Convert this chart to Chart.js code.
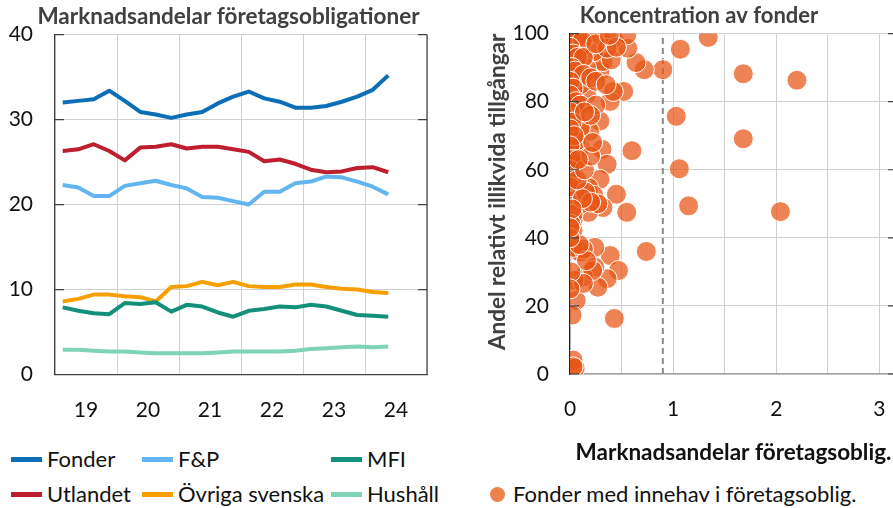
<!DOCTYPE html>
<html>
<head>
<meta charset="utf-8">
<script src="https://cdn.jsdelivr.net/npm/chart.js@4.4.1/dist/chart.umd.min.js"></script>
<style>
  body { margin: 0; width: 893px; height: 508px; overflow: hidden; background: #fff; position: relative; font-family: Lato, sans-serif; }
  #left { position: absolute; left: 0; top: 0; }
  #right { position: absolute; left: 480px; top: 0; }
  .lg { position: absolute; font-size: 22px; color: #111; line-height: 26px; white-space: nowrap; transform: translateY(-50%); }
  .lg i { position: absolute; top: 11px; height: 5px; width: 31px; }
  .lg b { position: absolute; top: 6px; width: 15px; height: 15px; border-radius: 50%; }
</style>
</head>
<body>
<canvas id="left" width="457" height="432"></canvas>
<canvas id="right" width="438" height="466"></canvas>
<div id="legend"></div>
<script>
  // kvartal, 2019 K1 - 2024 K2
  const quarters = ['2019K1', '2019K2', '2019K3', '2019K4', '2020K1', '2020K2', '2020K3', '2020K4',
    '2021K1', '2021K2', '2021K3', '2021K4', '2022K1', '2022K2', '2022K3', '2022K4',
    '2023K1', '2023K2', '2023K3', '2023K4', '2024K1', '2024K2'];

  const fonder   = [32.0, 32.2, 32.4, 33.4, 32.2, 30.9, 30.6, 30.2, 30.6, 30.9, 31.9, 32.7, 33.3, 32.5, 32.1, 31.4, 31.4, 31.6, 32.1, 32.7, 33.5, 35.2];
  const fp       = [22.3, 22.0, 21.0, 21.0, 22.2, 22.5, 22.8, 22.3, 21.9, 20.9, 20.8, 20.4, 20.0, 21.5, 21.5, 22.5, 22.7, 23.3, 23.2, 22.7, 22.1, 21.2];
  const mfi      = [7.9, 7.5, 7.2, 7.1, 8.4, 8.3, 8.5, 7.4, 8.2, 8.0, 7.3, 6.8, 7.5, 7.7, 8.0, 7.9, 8.2, 8.0, 7.5, 7.0, 6.9, 6.8];
  const utlandet = [26.3, 26.5, 27.1, 26.3, 25.2, 26.7, 26.8, 27.1, 26.6, 26.8, 26.8, 26.5, 26.2, 25.1, 25.3, 24.8, 24.1, 23.8, 23.9, 24.3, 24.4, 23.8];
  const ovriga   = [8.6, 8.9, 9.4, 9.4, 9.2, 9.1, 8.6, 10.3, 10.4, 10.9, 10.5, 10.9, 10.4, 10.3, 10.3, 10.6, 10.6, 10.3, 10.1, 10.0, 9.7, 9.6];
  const hushall  = [2.9, 2.9, 2.8, 2.7, 2.7, 2.6, 2.5, 2.5, 2.5, 2.5, 2.6, 2.7, 2.7, 2.7, 2.7, 2.8, 3.0, 3.1, 3.2, 3.3, 3.2, 3.3];

  const seriesNames  = ['Fonder', 'F&P', 'MFI', 'Utlandet', 'Övriga svenska', 'Hushåll'];
  const seriesValues = [fonder, fp, mfi, utlandet, ovriga, hushall];
  const seriesColors = ['#0B6EB6', '#62B5EF', '#12907A', '#BE1E2D', '#F5A000', '#7FD3B6'];

  const yearTicks  = [2019, 2019.5, 2020, 2020.5, 2021, 2021.5, 2022, 2022.5, 2023, 2023.5, 2024, 2024.5, 2025];
  const shareTicks = [0, 0.5, 1, 1.5, 2, 2.5, 3];

  // fonder: marknadsandel (x) och andel relativt illikvida tillgångar (y)
  const fundShare = [1.34, 1.07, 0.90, 1.68, 2.20, 1.03, 1.68, 0.60, 1.06, 0.72, 0.64, 0.56, 0.52, 1.15, 2.04, 0.55, 0.74, 0.43,
    0.45, 0.32, 0.18, 0.39, 0.47, 0.36, 0.27, 0.24, 0.24, 0.13, 0.04, 0.06, 0.02, 0.03, 0.05, 0.03, 0.06, 0.10, 0.03, 0.10, 0.03,
    0.29, 0.19, 0.10, 0.05, 0.03, 0.39, 0.42, 0.16, 0.10, 0.05, 0.29, 0.32, 0.40, 0.23, 0.10, 0.03, 0.16, 0.29, 0.42, 0.55, 0.36,
    0.06, 0.16, 0.31, 0.10, 0.36, 0.29, 0.05, 0.05, 0.18, 0.10, 0.03, 0.03, 0.03, 0.13, 0.06,
    0.00, 0.02, 0.08, 0.12, 0.00, 0.03, 0.07, 0.13, 0.02, 0.05, 0.13, 0.20, 0.25, 0.00, 0.03, 0.00, 0.06, 0.10, 0.00, 0.02,
    0.00, 0.04, 0.00, 0.03, 0.00, 0.02, 0.00, 0.23, 0.15, 0.27, 0.20, 0.12, 0.22, 0.16, 0.13, 0.03, 0.01, 0.00, 0.09, 0.07,
    0.14, 0.20, 0.22, 0.25, 0.20, 0.14, 0.08, 0.35, 0.25, 0.45, 0.38, 0.01, 0.00, 0.02, 0.00];
  const illiquidShare = [98.9, 95.4, 89.4, 88.2, 86.3, 75.7, 69.1, 65.6, 60.3, 89.4, 91.5, 95.7, 83.0, 49.4, 47.7, 47.5, 36.0, 16.3,
    52.8, 48.9, 47.5, 34.8, 30.4, 28.0, 25.5, 37.2, 31.4, 28.5, 27.5, 21.6, 17.3, 4.1, 1.7, 42.1, 36.3, 35.8, 52.8, 49.9, 45.0,
    74.3, 71.3, 72.3, 76.2, 79.1, 80.1, 83.0, 82.1, 85.0, 86.9, 88.9, 91.8, 92.3, 94.7, 95.7, 97.7, 99.1, 99.6, 98.6, 99.6, 95.7,
    91.8, 89.9, 66.0, 66.5, 61.6, 57.2, 64.5, 61.6, 54.8, 54.3, 50.9, 47.0, 37.2, 36.7, 68.4,
    99.0, 98.0, 99.0, 98.0, 96.0, 94.0, 93.0, 93.0, 90.0, 89.0, 88.0, 87.0, 86.0, 86.0, 84.0, 82.0, 80.0, 79.0, 77.0, 74.0,
    72.0, 70.0, 67.0, 63.0, 60.0, 57.0, 55.0, 52.5, 53.5, 50.0, 50.5, 51.5, 30.4, 33.3, 26.6, 2.1, 30.0, 25.0, 38.0, 57.0,
    60.0, 64.0, 68.0, 79.0, 76.0, 77.0, 63.0, 85.0, 97.0, 96.0, 99.5, 44.0, 40.0, 48.5, 43.0];
  const threshold = 0.9;
  const scatterLabel = 'Fonder med innehav i företagsoblig.';

  const FONT = 'Lato';
  const tickFont = { family: FONT, size: 21 };
  const gridGrey = '#d0d0d0';

  function quarterToYear(q) {
    return Number(q.slice(0, 4)) + (Number(q.slice(5)) - 0.5) / 4;
  }

  // rubriken centreras över hela canvasen, inte bara över ritytan
  const wideTitle = {
    id: 'wideTitle',
    afterLayout(chart) {
      const t = chart.titleBlock;
      if (!t) return;
      t.left = 0;
      t.right = chart.width;
      t.width = chart.width;
    }
  };

  // korta streck inåt vid y-axlarna + ram till höger
  const innerTicks = {
    id: 'innerTicks',
    afterDraw(chart, args, opts) {
      const { ctx, chartArea: a } = chart;
      const y = chart.scales.y;
      ctx.save();
      ctx.strokeStyle = opts.color;
      ctx.lineWidth = 1.2;
      ctx.beginPath();
      ctx.moveTo(a.right, a.top);
      ctx.lineTo(a.right, a.bottom);
      y.ticks.forEach(t => {
        const py = y.getPixelForValue(t.value);
        ctx.moveTo(a.left, py); ctx.lineTo(a.left + opts.length, py);
        ctx.moveTo(a.right, py); ctx.lineTo(a.right - opts.length, py);
      });
      ctx.stroke();
      ctx.restore();
    }
  };

  function drawLeft() {
    new Chart(document.getElementById('left'), {
      type: 'line',
      data: {
        datasets: seriesNames.map((name, i) => ({
          label: name,
          data: quarters.map((q, j) => ({ x: quarterToYear(q), y: seriesValues[i][j] })),
          borderColor: seriesColors[i],
          backgroundColor: seriesColors[i],
          borderWidth: 4,
          pointRadius: 0,
          tension: 0,
          borderJoinStyle: 'round'
        }))
      },
      options: {
        responsive: false,
        animation: false,
        layout: { padding: { left: 0, right: 30, top: 0, bottom: 7.5 } },
        plugins: {
          legend: { display: false },
          tooltip: { enabled: false },
          title: {
            display: true,
            text: 'Marknadsandelar företagsobligationer',
            color: '#404040',
            font: { family: FONT, size: 22.5, weight: 'bold' },
            padding: { top: 2, bottom: 4 }
          },
          innerTicks: { color: '#404040', length: 9 }
        },
        scales: {
          x: {
            type: 'linear',
            min: 2019,
            max: 2025,
            afterBuildTicks: s => { s.ticks = yearTicks.map(v => ({ value: v })); },
            afterFit: s => { s.height = 50; },
            ticks: {
              autoSkip: false,
              maxRotation: 0,
              padding: 23,
              color: '#111',
              font: tickFont,
              callback: v => (v % 1 === 0.5 ? String(Math.floor(v)).slice(2) : '')
            },
            grid: {
              drawTicks: false,
              color: c => (c.tick && c.tick.value % 1 === 0 ? gridGrey : 'rgba(0,0,0,0)')
            },
            border: { color: '#404040', width: 1.2 }
          },
          y: {
            min: 0,
            max: 40,
            afterFit: s => { s.width = 55; },
            ticks: { stepSize: 10, padding: 22, color: '#111', font: tickFont },
            grid: { drawTicks: false, color: gridGrey },
            border: { color: '#404040', width: 1.2 }
          }
        }
      },
      plugins: [wideTitle, innerTicks]
    });
  }

  function drawRight() {
    new Chart(document.getElementById('right'), {
      type: 'scatter',
      data: {
        datasets: [{
          label: scatterLabel,
          data: fundShare.map((x, i) => ({ x: x, y: illiquidShare[i] })),
          backgroundColor: 'rgba(232,85,20,0.72)',
          borderColor: '#ffffff',
          borderWidth: 1,
          pointRadius: 10,
          clip: 0,
          order: 1
        }, {
          type: 'line',
          label: 'gräns',
          data: [{ x: threshold, y: 0 }, { x: threshold, y: 100 }],
          borderColor: '#8a8a8a',
          borderWidth: 2,
          borderDash: [6, 4],
          pointRadius: 0,
          order: 2
        }]
      },
      options: {
        responsive: false,
        animation: false,
        layout: { padding: { left: 0, right: 21, top: 0, bottom: 0 } },
        plugins: {
          legend: { display: false },
          tooltip: { enabled: false },
          title: {
            display: true,
            text: 'Koncentration av fonder',
            color: '#404040',
            font: { family: FONT, size: 22, weight: 'bold' },
            padding: { top: 2, bottom: 4 }
          },
          innerTicks: { color: '#404040', length: 9 }
        },
        scales: {
          x: {
            type: 'linear',
            min: 0,
            max: 3.17,
            afterBuildTicks: s => { s.ticks = shareTicks.map(v => ({ value: v })); },
            afterFit: s => { s.height = 92; },
            ticks: {
              autoSkip: false,
              maxRotation: 0,
              padding: 23,
              color: '#111',
              font: tickFont,
              callback: v => (Number.isInteger(v) ? String(v) : '')
            },
            grid: { drawTicks: false, color: gridGrey },
            border: { color: '#a0a0a0', width: 1.2 },
            title: {
              display: true,
              text: 'Marknadsandelar företagsoblig.',
              color: '#111',
              font: { family: FONT, size: 22.5, weight: 'bold' },
              padding: { top: 0, bottom: 0 }
            }
          },
          y: {
            min: 0,
            max: 100,
            afterFit: s => { s.width = 90; },
            ticks: { stepSize: 20, padding: 21, color: '#111', font: tickFont },
            grid: { drawTicks: false, color: gridGrey },
            border: { color: '#222', width: 1.2 },
            title: {
              display: true,
              text: 'Andel relativt illikvida tillgångar',
              align: 'end',
              color: '#404040',
              font: { family: FONT, size: 22.5, weight: 'bold' },
              padding: { top: 4, bottom: 0 }
            }
          }
        }
      },
      plugins: [wideTitle, innerTicks]
    });
  }

  function buildLegend() {
    const box = document.getElementById('legend');
    const colX = [11, 142, 331];
    const rowY = [459, 494];
    seriesNames.forEach((name, i) => {
      const d = document.createElement('div');
      d.className = 'lg';
      d.style.left = colX[i % 3] + 'px';
      d.style.top = rowY[Math.floor(i / 3)] + 'px';
      d.style.paddingLeft = '36px';
      d.innerHTML = '<i style="left:0;background:' + seriesColors[i] + '"></i>';
      d.appendChild(document.createTextNode(name));
      box.appendChild(d);
    });
    const s = document.createElement('div');
    s.className = 'lg';
    s.style.left = '490px';
    s.style.top = rowY[1] + 'px';
    s.style.paddingLeft = '23px';
    s.innerHTML = '<b style="left:0;background:#EE824F"></b>';
    s.appendChild(document.createTextNode(scatterLabel));
    box.appendChild(s);
  }

  Promise.all([
    document.fonts.load('20px Lato'),
    document.fonts.load('bold 20px Lato')
  ]).catch(() => {}).then(() => {
    drawLeft();
    drawRight();
    buildLegend();
  });
</script>
</body>
</html>
